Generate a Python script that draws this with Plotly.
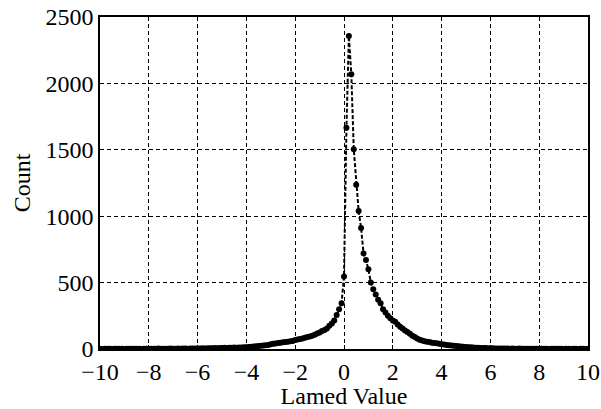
import numpy as np
import plotly.graph_objects as go

# Bin centres (Lamed value) and counts
lamed_values = [round(v / 10, 1) for v in range(-100, 101)]
counts = (
    # -10.0 .. -6.1
    [1, 0, 1, 2, 1, 0, 1, 1, 2, 1, 0, 1, 2, 1, 1, 2, 1, 0, 2, 1,
     1, 2, 1, 2, 3, 1, 2, 2, 1, 3, 2, 2, 3, 2, 3, 3, 2, 4, 3, 3]
    # -6.0 .. -4.1
    + [4, 3, 5, 4, 5, 6, 5, 7, 6, 8, 7, 9, 8, 10, 9, 11, 10, 12, 11, 13]
    # -4.0 .. -0.1
    + [14, 16, 17, 19, 21, 22, 25, 27, 29, 31]
    + [36, 40, 42, 45, 48, 50, 53, 55, 58, 60]
    + [67, 72, 75, 80, 84, 90, 95, 100, 108, 116]
    + [125, 135, 143, 155, 175, 192, 215, 256, 300, 344]
    # 0.0 .. 5.9
    + [545, 1666, 2357, 2068, 1504, 1237, 1039, 911, 720, 670]
    + [600, 500, 450, 410, 370, 344, 300, 275, 250, 231]
    + [215, 206, 185, 168, 155, 140, 128, 115, 100, 90]
    + [80, 70, 64, 58, 55, 52, 48, 45, 43, 40]
    + [35, 33, 30, 28, 26, 24, 22, 20, 19, 17]
    + [16, 14, 13, 12, 10, 9, 8, 8, 7, 6]
    # 6.0 .. 10.0
    + [5, 5, 4, 4, 3, 4, 3, 3, 2, 3, 2, 2, 3, 2, 1, 2, 2, 1, 2, 1,
       1, 2, 1, 1, 0, 1, 1, 2, 1, 1, 0, 1, 1, 0, 1, 1, 0, 1, 1, 0, 1]
)

x_ticks = [-10, -8, -6, -4, -2, 0, 2, 4, 6, 8, 10]
x_tick_text = ["\u221210", "\u22128", "\u22126", "\u22124", "\u22122", "0", "2", "4", "6", "8", "10"]
y_ticks = [0, 500, 1000, 1500, 2000, 2500]

font_family = "Liberation Serif, Times New Roman, serif"
fsize = 24

fig = go.Figure()
fig.add_trace(go.Scatter(
    x=lamed_values, y=counts, mode="lines+markers",
    line=dict(color="black", width=2, dash="4px,2px"),
    marker=dict(color="black", size=6, symbol="circle"),
    showlegend=False,
))

axis_common = dict(
    showline=True, linecolor="black", linewidth=1.5, mirror=True,
    showgrid=True, gridcolor="black", gridwidth=1, griddash="4px,3px",
    zeroline=False, ticks="inside", ticklen=4, tickcolor="black",
    tickfont=dict(family=font_family, size=fsize, color="black"),
    automargin=False,
)

fig.update_layout(
    width=601, height=409,
    margin=dict(l=100, r=13, t=17, b=60),
    paper_bgcolor="white", plot_bgcolor="white",
    font=dict(family=font_family, color="black", size=fsize),
    xaxis=dict(range=[-10, 10], tickvals=x_ticks, ticktext=x_tick_text,
               title=dict(text="Lamed Value", font=dict(size=fsize), standoff=0),
               **axis_common),
    yaxis=dict(range=[0, 2500], tickvals=y_ticks,
               title=dict(text="Count", font=dict(size=fsize), standoff=8),
               **axis_common),
)

fig.write_html(
    "out.html",
    config={"displayModeBar": False},
    post_script="document.body.style.margin='0';document.body.style.overflow='hidden';",
)
